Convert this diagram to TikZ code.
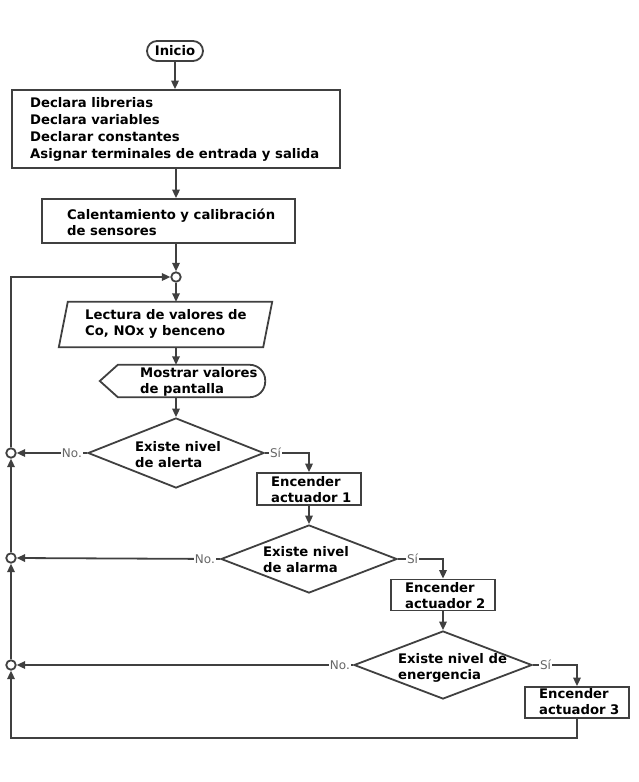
\documentclass[tikz,border=0pt]{standalone}
\usepackage{fontspec}
\setmainfont{DejaVu Sans}
\usetikzlibrary{shapes.geometric,shapes.misc,arrows.meta}
\definecolor{ln}{HTML}{404040}
\definecolor{lbl}{HTML}{666666}
\tikzset{
  base/.style={font=\bfseries\fontsize{13.2}{16}\selectfont, text=black},
  txt/.style={base, align=left, inner sep=0, anchor=west},
  box/.style={draw=ln, line width=1.8, fill=white, inner sep=0},
  hidden/.style={inner sep=0},
  conn/.style={draw=ln, line width=1.8, -{Triangle[length=8.5pt,width=7.5pt]}},
  plain/.style={draw=ln, line width=1.8},
  joint/.style={circle, draw=ln, line width=1.8, fill=white, minimum size=9.5, inner sep=0},
  lab/.style={font=\fontsize{12}{14}\selectfont, text=lbl, fill=white, inner sep=1},
  dec/.style={diamond, draw=ln, line width=1.8, fill=white, inner sep=0, aspect=2.5},
}
\begin{document}
\begin{tikzpicture}[x=1pt,y=-1pt]
\useasboundingbox (0,0) rectangle (639,782);

% start
\node[rounded rectangle, draw=ln, line width=1.8, fill=white, minimum width=56, minimum height=20, inner sep=0, base] (ini) at (175,51) {Inicio};

% boxes
\node[box, minimum width=328, minimum height=78] (b1) at (176,129) {};
\node[txt, font=\bfseries\fontsize{13.2}{17}\selectfont] (b1t) at (30,129) {Declara librerias\\Declara variables\\Declarar constantes\\Asignar terminales de entrada y salida};

\node[box, minimum width=253, minimum height=44] (b2) at (168.5,221) {};
\node[txt] (b2t) at (67,222) {Calentamiento y calibración\\de sensores};

% junction
\node[joint] (c0) at (176,277) {};

% input parallelogram
\node[hidden, minimum width=213, minimum height=45] (lec) at (165.5,324.5) {};
\draw[plain, fill=white] ([xshift=9pt]lec.north west) -- (lec.north east) -- ([xshift=-9pt]lec.south east) -- (lec.south west) -- cycle;
\node[txt] (lect) at (85,323.5) {Lectura de valores de\\Co, NOx y benceno};

% display
\node[hidden, minimum width=165, minimum height=32] (disp) at (182.5,381) {};
\draw[plain, fill=white] (disp.west) -- ([xshift=18pt]disp.north west) {[rounded corners=15.5pt] -- (disp.north east) -- (disp.south east)} -- ([xshift=18pt]disp.south west) -- cycle;
\node[txt] (dispt) at (140,382) {Mostrar valores\\de pantalla};

% decisions
\node[dec, minimum width=176, minimum height=70] (d1) at (176,453) {};
\node[txt] (d1t) at (135,455) {Existe nivel\\de alerta};
\node[box, minimum width=104, minimum height=32] (a1) at (309,489) {};
\node[txt] (a1t) at (271,490) {Encender\\actuador 1};

\node[dec, minimum width=176, minimum height=68] (d2) at (309,559) {};
\node[txt] (d2t) at (263,560) {Existe nivel\\de alarma};
\node[box, minimum width=104, minimum height=31] (a2) at (443,595) {};
\node[txt] (a2t) at (405,596) {Encender\\actuador 2};

\node[dec, minimum width=178, minimum height=68] (d3) at (443,665) {};
\node[txt] (d3t) at (398,668) {Existe nivel de\\energencia};
\node[box, minimum width=104, minimum height=31] (a3) at (577,702.5) {};
\node[txt] (a3t) at (539,702) {Encender\\actuador 3};

% left junctions
\node[joint] (j1) at (11,453) {};
\node[joint] (j2) at (11,558) {};
\node[joint] (j3) at (11,665) {};
\coordinate (bl) at (11,738);

% main connectors
\draw[conn] (ini.south) -- (ini.south |- b1.north);
\draw[conn] (b1.south) -- (b1.south |- b2.north);
\draw[conn] (c0 |- b2.south) -- (c0.north);
\draw[conn] (c0.south) -- (c0 |- lec.north);
\draw[conn] (c0 |- lec.south) -- (c0 |- disp.north);
\draw[conn] (c0 |- disp.south) -- (d1.north);
\draw[conn] (a1.south) -- (d2.north);
\draw[conn] (a2.south) -- (d3.north);

% yes branches
\draw[conn] (d1.east) -| (a1.north);
\draw[conn] (d2.east) -| (a2.north);
\draw[conn] (d3.east) -| (a3.north);

% no branches
\draw[conn] (d1.west) -- (j1.east);
\draw[conn] (d2.west) -- (j2.east);
\draw[conn] (d3.west) -- (j3.east);

% loop back
\draw[conn] (a3.south) |- (bl) -- (j3.south);
\draw[conn] (j3.north) -- (j2.south);
\draw[conn] (j2.north) -- (j1.south);
\draw[conn] (j1.north) |- (c0.west);

% labels
\node[lab, anchor=east] (n1) at ([xshift=-4pt]d1.west) {No.};
\node[lab, anchor=east] (n2) at ([xshift=-4pt]d2.west) {No.};
\node[lab, anchor=east] (n3) at ([xshift=-2pt]d3.west) {No.};
\node[lab, anchor=west] (s1) at ([xshift=4pt]d1.east) {Sí};
\node[lab, anchor=west] (s2) at ([xshift=8pt]d2.east) {Sí};
\node[lab, anchor=west] (s3) at ([xshift=6pt]d3.east) {Sí};
\end{tikzpicture}
\end{document}
